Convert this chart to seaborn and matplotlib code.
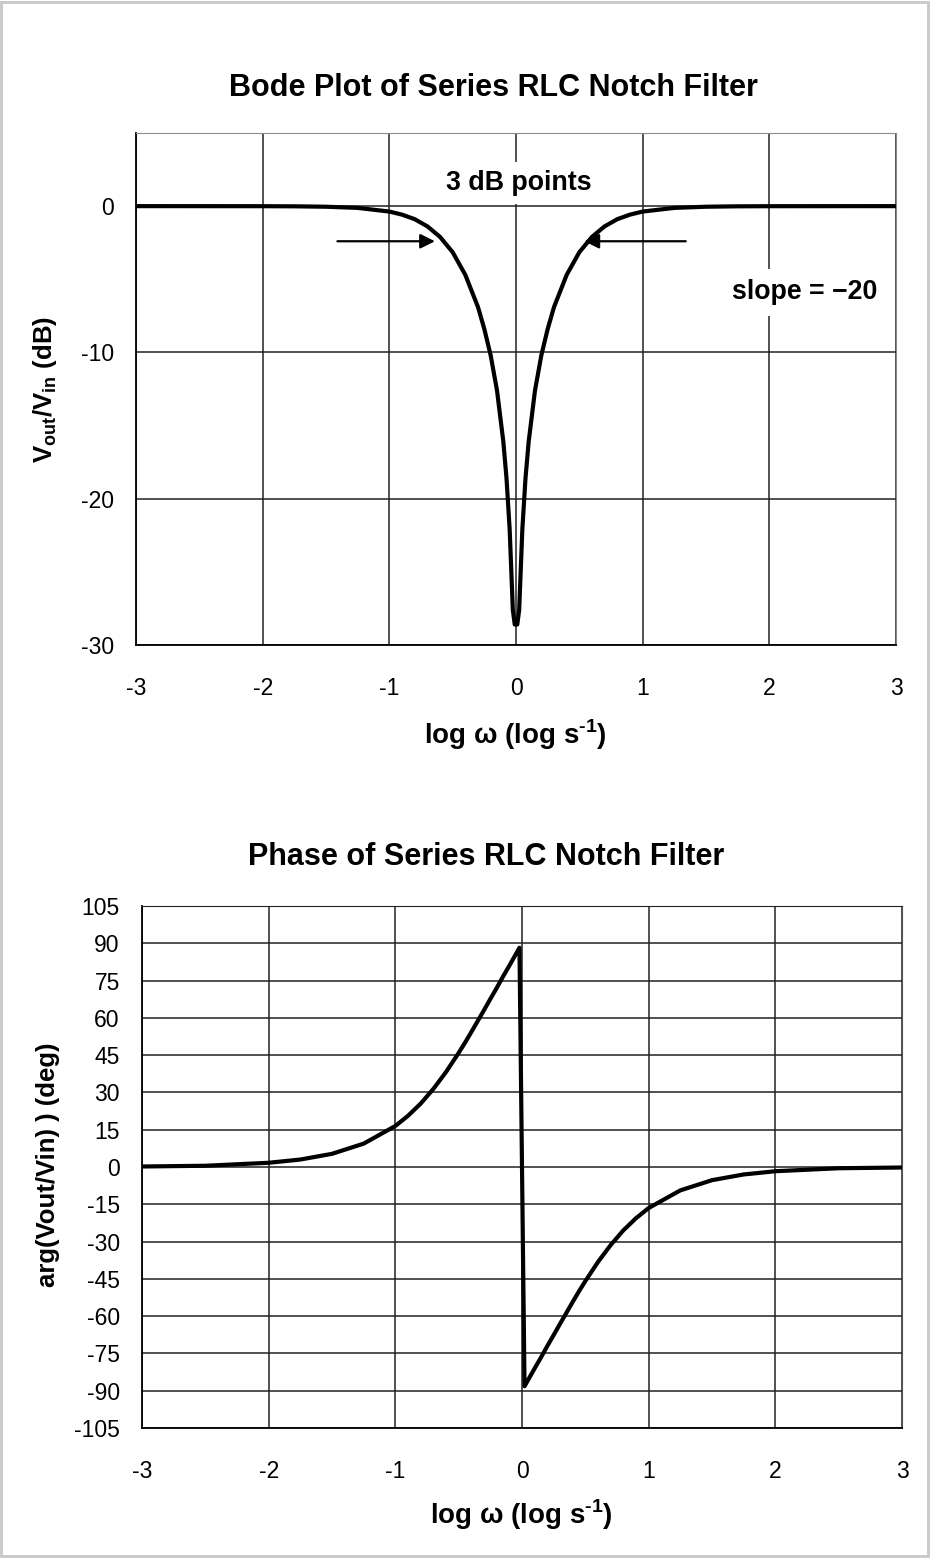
import pandas as pd
import seaborn as sns
import matplotlib.pyplot as plt
from matplotlib.patches import Rectangle

# magnitude curve (log w, dB)
mag_logw = [-3, -2.5, -2, -1.75, -1.5, -1.25, -1, -0.9, -0.8, -0.7, -0.6, -0.5, -0.4, -0.3,
            -0.25, -0.2, -0.15, -0.1, -0.075, -0.05, -0.025, -0.01, 0.01, 0.025, 0.05, 0.075,
            0.1, 0.15, 0.2, 0.25, 0.3, 0.4, 0.5, 0.6, 0.7, 0.8, 0.9, 1, 1.25, 1.5, 1.75, 2, 2.5, 3]
mag_db = [0, -0.001, -0.004, -0.012, -0.04, -0.12, -0.37, -0.58, -0.89, -1.38, -2.1, -3.15, -4.7, -6.9,
          -8.4, -10.2, -12.6, -16.1, -18.6, -22.1, -27.6, -28.6, -28.6, -27.6, -22.1, -18.6,
          -16.1, -12.6, -10.2, -8.4, -6.9, -4.7, -3.15, -2.1, -1.38, -0.89, -0.58, -0.37, -0.12, -0.04, -0.012, -0.004, -0.001, 0]

# phase curve (log w, degrees)
ph_logw = [-3, -2.5, -2, -1.75, -1.5, -1.25, -1, -0.9, -0.8, -0.7, -0.6, -0.5, -0.45, -0.4, -0.35,
           -0.3, -0.25, -0.2, -0.15, -0.1, -0.05, -0.02, 0.02, 0.05, 0.1, 0.15, 0.2, 0.25, 0.3,
           0.35, 0.4, 0.45, 0.5, 0.6, 0.7, 0.8, 0.9, 1, 1.25, 1.5, 1.75, 2, 2.5, 3]
ph_deg = [0.2, 0.5, 1.7, 3.0, 5.3, 9.4, 16.5, 20.6, 25.5, 31.4, 38.2, 45.9, 50.0, 54.3, 58.7,
          63.1, 67.6, 72.0, 76.6, 81.0, 85.5, 88.2, -88.2, -85.5, -81.0, -76.6, -72.0, -67.6, -63.1,
          -58.7, -54.3, -50.0, -45.9, -38.2, -31.4, -25.5, -20.6, -16.5, -9.4, -5.3, -3.0, -1.7, -0.5, -0.2]

x_ticks = [-3, -2, -1, 0, 1, 2, 3]
mag_ticks = [0, -10, -20, -30]
ph_ticks = list(range(-105, 106, 15))

sns.set_style("white")
plt.rcParams['font.family'] = ['Liberation Sans', 'DejaVu Sans']
plt.rcParams['mathtext.fontset'] = 'custom'
plt.rcParams['mathtext.rm'] = 'Liberation Sans:bold'
plt.rcParams['axes.unicode_minus'] = False
plt.rcParams['text.color'] = 'k'
plt.rcParams['axes.labelcolor'] = 'k'
plt.rcParams['xtick.color'] = 'k'
plt.rcParams['ytick.color'] = 'k'

df_mag = pd.DataFrame({'logw': mag_logw, 'db': mag_db})
df_ph = pd.DataFrame({'logw': ph_logw, 'deg': ph_deg})

fig = plt.figure(figsize=(9.3, 15.58), dpi=100)
ax1 = fig.add_axes([136 / 930, 1 - 645 / 1558, 760 / 930, 512 / 1558])
ax2 = fig.add_axes([142 / 930, 1 - 1428 / 1558, 760 / 930, 522 / 1558])

grid_kw = dict(color='#222222', lw=1.1)
xlabel = 'log ω (log s$^{\\text{-1}}$)'

for ax in (ax1, ax2):
    ax.set_xlim(-3, 3)
    ax.set_xticks(x_ticks)
    ax.grid(True, **grid_kw)
    ax.set_axisbelow(True)
    ax.tick_params(direction='inout', length=14, width=1, color='k', labelcolor='k', labelsize=16.5)
    ax.tick_params(axis='x', pad=16)
    ax.tick_params(axis='y', pad=9)
    for s in ('left', 'bottom'):
        ax.spines[s].set_color('k')
        ax.spines[s].set_linewidth(1.3)

# --- magnitude ---
sns.lineplot(data=df_mag, x='logw', y='db', ax=ax1, color='k', lw=3, sort=False, estimator=None)
ax1.set_ylim(-30, 5)
ax1.set_yticks(mag_ticks)
ax1.spines['top'].set_color('#8c8c8c')
ax1.spines['right'].set_color('#8c8c8c')
ax1.set_xlabel(xlabel, fontsize=20, fontweight='bold')
ax1.set_ylabel('V$_{\\mathregular{out}}$/V$_{\\mathregular{in}}$ (dB)', fontsize=18.5, fontweight='bold')
ax1.xaxis.set_label_coords(0.4987, -0.176)
ax1.xaxis.label.set_va('center')
ax1.yaxis.set_label_coords(-0.1197, 0.498)
ax1.yaxis.label.set_va('center')

ax1.text(0.02, 1.6, '3 dB points', ha='center', va='center', fontsize=19.3, fontweight='bold',
         bbox=dict(boxstyle='square,pad=0.3', facecolor='white', edgecolor='none'), zorder=4)
ax1.text(2.28, -5.9, 'slope = \u221220', ha='center', va='center', fontsize=19.3, fontweight='bold',
         bbox=dict(boxstyle='square,pad=0.4', facecolor='white', edgecolor='none'), zorder=4, clip_on=False)
arrow_kw = dict(arrowstyle='-|>', color='k', lw=1.6, mutation_scale=22, shrinkA=0, shrinkB=0)
ax1.annotate('', xy=(-0.64, -2.4), xytext=(-1.41, -2.4), arrowprops=arrow_kw)
ax1.annotate('', xy=(0.54, -2.4), xytext=(1.34, -2.4), arrowprops=arrow_kw)

# --- phase ---
sns.lineplot(data=df_ph, x='logw', y='deg', ax=ax2, color='k', lw=3, sort=False, estimator=None)
ax2.set_ylim(-105, 105)
ax2.set_yticks(ph_ticks)
ax2.spines['top'].set_color('#222222')
ax2.spines['right'].set_color('#555555')
ax2.set_xlabel(xlabel, fontsize=20, fontweight='bold')
ax2.set_ylabel('arg(Vout/Vin) ) (deg)', fontsize=18.5, fontweight='bold')
ax2.xaxis.set_label_coords(0.4987, -0.1667)
ax2.xaxis.label.set_va('center')
ax2.yaxis.set_label_coords(-0.1237, 0.504)
ax2.yaxis.label.set_va('center')

fig.text(493 / 930, 1 - 88 / 1558, 'Bode Plot of Series RLC Notch Filter', ha='center', va='center',
         fontsize=22, fontweight='bold')
fig.text(486 / 930, 1 - 857 / 1558, 'Phase of Series RLC Notch Filter', ha='center', va='center',
         fontsize=22, fontweight='bold')

fig.patches.append(Rectangle((0.001, 0.001), 0.997, 0.998, transform=fig.transFigure, fill=False,
                             edgecolor='#c8c8c8', lw=2))

fig.savefig('out.png', dpi=100)
